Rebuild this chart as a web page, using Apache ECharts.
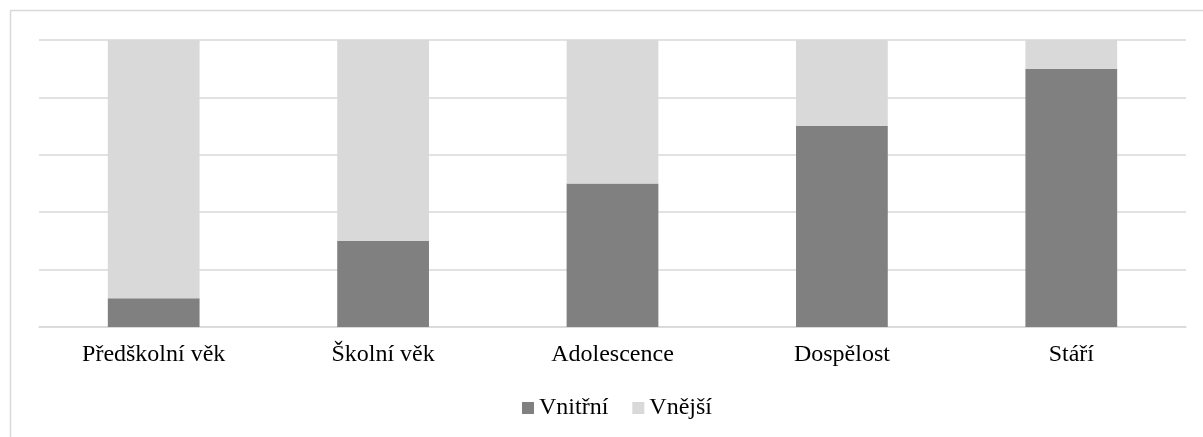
<!DOCTYPE html>
<html>
<head>
<meta charset="utf-8">
<script src="https://cdn.jsdelivr.net/npm/echarts@6/dist/echarts.min.js"></script>
<style>
  html, body { margin: 0; padding: 0; background: #fff; }
  #chart { width: 1203px; height: 437px; }
</style>
</head>
<body>
<div id="chart"></div>
<script>
// data (percent)
var categories = ['Předškolní věk', 'Školní věk', 'Adolescence', 'Dospělost', 'Stáří'];
var vnitrni = [10, 30, 50, 70, 90];
var vnejsi = [90, 70, 50, 30, 10];

var myChart = echarts.init(document.getElementById('chart'));

var font = '"Liberation Serif", "Times New Roman", serif';

var option = {
    animation: false,
    backgroundColor: '#fff',
    graphic: [
        {
            type: 'rect',
            shape: { x: 10.5, y: 10.5, width: 1210, height: 450 },
            style: { fill: 'none', stroke: '#d9d9d9', lineWidth: 1.5 },
            silent: true
        }
    ],
    grid: { left: 39, right: 17, top: 40, bottom: 110 },
    legend: {
        bottom: 12,
        left: 517,
        itemWidth: 12,
        itemHeight: 12,
        itemGap: 24,
        icon: 'rect',
        textStyle: { fontFamily: font, fontSize: 24, color: '#000' },
        data: ['Vnitřní', 'Vnější']
    },
    xAxis: {
        type: 'category',
        data: categories,
        axisTick: { show: false },
        axisLine: { lineStyle: { color: '#d9d9d9', width: 1.5 } },
        axisLabel: { fontFamily: font, fontSize: 24, color: '#000', margin: 16 }
    },
    yAxis: {
        type: 'value',
        min: 0,
        max: 100,
        interval: 20,
        axisLabel: { show: false },
        axisLine: { show: false },
        axisTick: { show: false },
        splitLine: { lineStyle: { color: '#d9d9d9', width: 1.5 } }
    },
    series: [
        {
            name: 'Vnitřní',
            type: 'bar',
            stack: 'total',
            barWidth: '40%',
            itemStyle: { color: '#808080' },
            data: vnitrni
        },
        {
            name: 'Vnější',
            type: 'bar',
            stack: 'total',
            barWidth: '40%',
            itemStyle: { color: '#d9d9d9' },
            data: vnejsi
        }
    ]
};

myChart.setOption(option);
</script>
</body>
</html>
